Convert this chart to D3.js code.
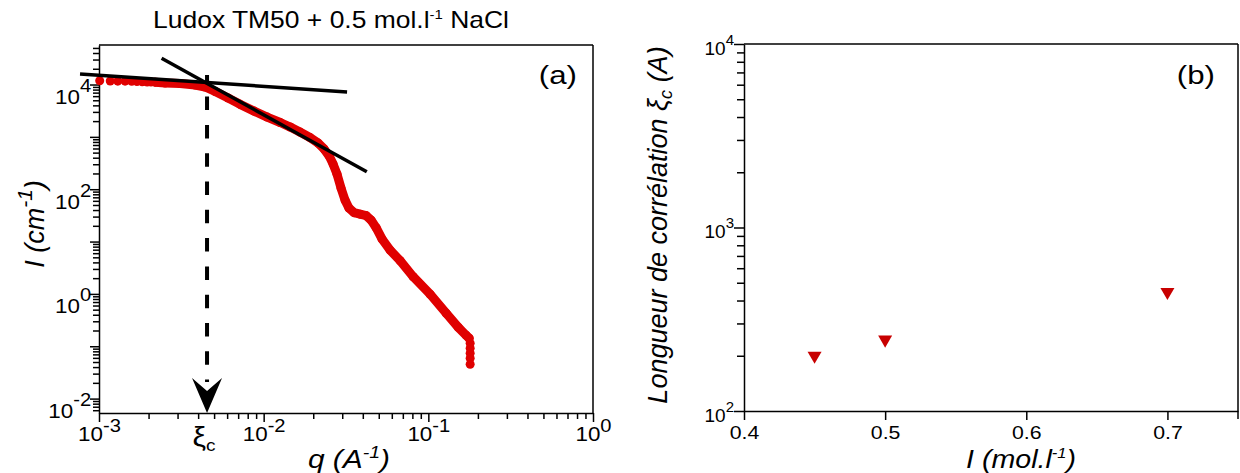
<!DOCTYPE html>
<html><head><meta charset="utf-8">
<script src="https://cdn.jsdelivr.net/npm/d3@7"></script>
<style>
body{margin:0;background:#fff}
svg{display:block}
text{font-family:"Liberation Sans",Arial,Helvetica,sans-serif;fill:#000}
</style>
</head><body>
<svg id="chart" width="1240" height="473"></svg>
<script>
// ---------------- DATA ----------------
// Panel (a): SAXS curve, q in A^-1, I in cm^-1
const qValues = [
  1.01e-3, 1.17e-3, 1.30e-3, 1.44e-3, 1.58e-3, 1.70e-3, 1.83e-3, 1.96e-3, 2.07e-3, 2.19e-3,
  2.52e-3, 3.11e-3, 3.83e-3, 4.41e-3, 5.07e-3, 6.08e-3, 7.19e-3, 8.74e-3, 1.05e-2, 1.26e-2,
  1.45e-2, 1.66e-2, 1.91e-2, 2.14e-2, 2.33e-2, 2.50e-2, 2.64e-2, 2.79e-2, 2.95e-2, 3.12e-2,
  3.30e-2, 3.54e-2, 3.85e-2, 4.19e-2, 4.49e-2, 4.82e-2, 5.24e-2, 5.86e-2, 6.74e-2, 8.09e-2,
  0.1025, 0.1283, 0.1518, 0.1697, 0.1770, 0.1795, 0.1795, 0.1795, 0.1795, 0.1795
];
const intensityValues = [
  11800, 11700, 11600, 11600, 11500, 11400, 11300, 11200, 11200, 11100,
  10680, 10450, 9780, 8960, 7350, 5520, 4180, 3110, 2390, 1880,
  1540, 1235, 970, 761, 585, 430, 302, 194, 105, 61.9,
  43.5, 35.7, 33.4, 31.3, 25.7, 18.4, 11.1, 6.85, 4.31, 2.13,
  0.987, 0.428, 0.231, 0.162, 0.142, 0.114, 0.0916, 0.0735, 0.059, 0.0453
];
const sparseCount = 10; // first low-q points drawn as separate dots

// Tangent lines (plateau and power-law regime)
const plateauLineQ = [7.67e-4, 0.0321];
const plateauLineI = [15900, 7190];
const slopeLineQ = [2.40e-3, 0.0423];
const slopeLineI = [31700, 215];

// Crossover position xi_c and the top of the dashed arrow
const xiCrossQ = 4.53e-3;
const xiCrossArrowTopI = 15200;

// Axis ticks, panel (a)
const xExponentsA = [-3, -2, -1, 0];
const yDecadesA = [-2, -1, 0, 1, 2, 3, 4];
const yLabelledExponentsA = [-2, 0, 2, 4];

// Panel (b): correlation length vs ionic strength
const ionicStrength = [0.45, 0.5, 0.7];
const correlationLength = [200, 245, 445];
const xTicksB = [0.4, 0.5, 0.6, 0.7];
const yExponentsB = [2, 3, 4];

// ---------------- DRAWING ----------------
const svg = d3.select("#chart");
const red = "#e00000";
const darkRed = "#c80000";
const SX = 1.12; // horizontal widening of horizontal texts

function stext(x, y, size, opts = {}) {
  const g = svg.append("g").attr("transform", `translate(${x},${y}) rotate(${opts.rot || 0}) scale(${opts.sx || 1},1)`);
  return g.append("text").attr("text-anchor", opts.anchor || "middle").attr("font-size", size)
    .attr("font-style", opts.italic ? "italic" : null);
}

// ---------- Panel (a) ----------
const A = {left: 99, right: 593, top: 45, bottom: 413};
const xA = d3.scaleLog().domain([1e-3, 1]).range([A.left, A.right]);
const yA = d3.scaleLog().domain([Math.pow(10, -2.275), Math.pow(10, 4.755)]).range([A.bottom, A.top]);

function minorLog(decades, dom) {
  const out = [];
  decades.forEach(e => { for (let m = 2; m <= 9; m++) { const v = m * Math.pow(10, e); if (v >= dom[0] && v <= dom[1]) out.push(v); } });
  return out;
}

const gA = svg.append("g");
gA.append("line").attr("x1", A.left).attr("x2", A.right).attr("y1", A.top).attr("y2", A.top).attr("stroke", "#000").attr("stroke-width", 1.5);
gA.append("line").attr("x1", A.right).attr("x2", A.right).attr("y1", A.top).attr("y2", A.bottom).attr("stroke", "#000").attr("stroke-width", 1.5);

// x minor ticks
gA.append("g").attr("transform", `translate(0,${A.bottom})`)
  .call(d3.axisBottom(xA).tickValues(minorLog([-3, -2, -1], xA.domain())).tickSize(6).tickFormat(""))
  .call(g => g.select(".domain").remove())
  .call(g => g.selectAll("line").attr("stroke-width", 1.5));
// x major ticks + labels
const xAxA = gA.append("g").attr("transform", `translate(0,${A.bottom})`)
  .call(d3.axisBottom(xA).tickValues(xExponentsA.map(e => Math.pow(10, e))).tickSize(9).tickSizeOuter(0).tickFormat(() => "10"));
xAxA.select(".domain").attr("stroke-width", 1.5);
xAxA.selectAll("line").attr("stroke-width", 1.5);
xAxA.selectAll("text").attr("font-size", 20).attr("y", 28).attr("dy", null).attr("dx", "0px")
  .attr("transform", `scale(${SX},1)`)
  .append("tspan").attr("dy", "-9").attr("font-size", 18).text(d => String(Math.round(Math.log10(d))));

// y minor ticks
gA.append("g").attr("transform", `translate(${A.left},0)`)
  .call(d3.axisLeft(yA).tickValues(minorLog(d3.range(-3, 5), yA.domain())).tickSize(6).tickFormat(""))
  .call(g => g.select(".domain").remove())
  .call(g => g.selectAll("line").attr("stroke-width", 1.5));
// y major ticks
const yAxA = gA.append("g").attr("transform", `translate(${A.left},0)`)
  .call(d3.axisLeft(yA).tickValues(yDecadesA.map(e => Math.pow(10, e))).tickSize(9).tickSizeOuter(0)
    .tickFormat(d => yLabelledExponentsA.includes(Math.round(Math.log10(d))) ? "10" : ""));
yAxA.select(".domain").attr("stroke-width", 1.5);
yAxA.selectAll("line").attr("stroke-width", 1.5);
yAxA.selectAll("text").filter(function(){ return this.textContent === "10"; })
  .attr("font-size", 20).attr("x", -7).attr("dy", "19").attr("transform", `scale(${SX},1)`)
  .each(function(d){
    d3.select(this).append("tspan").attr("dy", "-12").attr("font-size", 18).text(String(Math.round(Math.log10(d))));
  });

// curve (dense part as thick path, sparse dots as circles)
const pts = qValues.map((q, i) => [q, intensityValues[i]]);
const line = d3.line().x(d => xA(d[0])).y(d => yA(d[1]));
gA.append("path").datum(pts.slice(sparseCount - 1, pts.length - 5))
  .attr("d", line).attr("fill", "none").attr("stroke", red).attr("stroke-width", 9)
  .attr("stroke-linejoin", "round").attr("stroke-linecap", "round");
gA.append("g").selectAll("circle").data(pts).join("circle")
  .attr("cx", d => xA(d[0])).attr("cy", d => yA(d[1])).attr("r", 4.5).attr("fill", red);

// tangent lines
[[plateauLineQ, plateauLineI], [slopeLineQ, slopeLineI]].forEach(([qs, is]) => {
  gA.append("line").attr("x1", xA(qs[0])).attr("y1", yA(is[0])).attr("x2", xA(qs[1])).attr("y2", yA(is[1]))
    .attr("stroke", "#000").attr("stroke-width", 3.5);
});

// dashed arrow at xi_c
const ax = xA(xiCrossQ);
const arrowTipY = A.bottom;
const headH = 35, headW = 15, notch = 13;
gA.append("line").attr("x1", ax).attr("x2", ax).attr("y1", yA(xiCrossArrowTopI)).attr("y2", arrowTipY - headH + 4)
  .attr("stroke", "#000").attr("stroke-width", 4).attr("stroke-dasharray", "13.5,14.8").attr("stroke-dashoffset", 6.7);
gA.append("path")
  .attr("d", `M${ax},${arrowTipY} L${ax - headW},${arrowTipY - headH} L${ax},${arrowTipY - headH + notch} L${ax + headW},${arrowTipY - headH} Z`)
  .attr("fill", "#000");

// xi_c label under axis
const xiLab = stext(ax - 3, 446, 27, {sx: SX});
xiLab.append("tspan").text("ξ");
xiLab.append("tspan").attr("font-size", 17).attr("dy", 5).text("c");

// panel label
stext(577, 84, 26, {anchor: "end", sx: 1.2}).text("(a)");

// title
const title = stext(331, 28, 23, {sx: 1.15});
title.append("tspan").text("Ludox TM50 + 0.5 mol.l");
title.append("tspan").attr("font-size", 13).attr("dy", -9).text("-1");
title.append("tspan").attr("dy", 9).text(" NaCl");

// axis titles panel (a)
const xtA = stext(349, 468, 26, {sx: 1.15, italic: true});
xtA.append("tspan").text("q (A");
xtA.append("tspan").attr("font-size", 17).attr("dy", -10).text("-1");
xtA.append("tspan").attr("dy", 10).text(")");

const ytA = stext(44, 224, 27, {rot: -90, italic: true});
ytA.append("tspan").text("I (cm");
ytA.append("tspan").attr("font-size", 21).attr("dy", -12).text("-1");
ytA.append("tspan").attr("dy", 12).text(")");

// ---------- Panel (b) ----------
const B = {left: 744, right: 1238, top: 44, bottom: 411};
const xB = d3.scaleLinear().domain([0.4, 0.75]).range([B.left, B.right]);
const yB = d3.scaleLog().domain([100, 10000]).range([B.bottom, B.top]);
const gB = svg.append("g");
gB.append("line").attr("x1", B.left).attr("x2", B.right).attr("y1", B.top).attr("y2", B.top).attr("stroke", "#000").attr("stroke-width", 1.5);
gB.append("line").attr("x1", B.right).attr("x2", B.right).attr("y1", B.top).attr("y2", B.bottom + 8).attr("stroke", "#000").attr("stroke-width", 1.5);

const xAxB = gB.append("g").attr("transform", `translate(0,${B.bottom})`)
  .call(d3.axisBottom(xB).tickValues(xTicksB).tickSize(9).tickSizeOuter(0).tickFormat(d3.format(".1f")));
xAxB.select(".domain").attr("stroke-width", 1.5);
xAxB.selectAll("line").attr("stroke-width", 1.5);
xAxB.selectAll("text").attr("font-size", 19).attr("y", 15).attr("transform", `scale(${SX},1)`);

gB.append("g").attr("transform", `translate(${B.left},0)`)
  .call(d3.axisLeft(yB).tickValues(minorLog([2, 3], yB.domain())).tickSize(7).tickFormat(""))
  .call(g => g.select(".domain").remove())
  .call(g => g.selectAll("line").attr("stroke-width", 1.5));
const yAxB = gB.append("g").attr("transform", `translate(${B.left},0)`)
  .call(d3.axisLeft(yB).tickValues(yExponentsB.map(e => Math.pow(10, e))).tickSize(10).tickSizeOuter(0).tickFormat(() => "10"));
yAxB.select(".domain").attr("stroke-width", 1.5);
yAxB.selectAll("line").attr("stroke-width", 1.5);
yAxB.selectAll("text").attr("font-size", 19).attr("x", -10).attr("dy", "10")
  .each(function(d){
    d3.select(this).append("tspan").attr("dy", "-10").attr("font-size", 15).text(String(Math.round(Math.log10(d))));
  });

// triangle markers
const tri = d3.symbol().type(d3.symbolTriangle).size(85);
gB.append("g").selectAll("path").data(ionicStrength.map((x, i) => [x, correlationLength[i]])).join("path")
  .attr("d", tri).attr("fill", darkRed)
  .attr("transform", d => `translate(${xB(d[0])},${yB(d[1])}) rotate(180)`);

stext(1215, 84, 26, {anchor: "end", sx: 1.2}).text("(b)");

const xtB = stext(1021, 468, 26, {sx: 1.1, italic: true});
xtB.append("tspan").text("I (mol.l");
xtB.append("tspan").attr("font-size", 15).attr("dy", -10).text("-1");
xtB.append("tspan").attr("dy", 10).text(")");

const ytB = stext(667, 225, 27, {rot: -90, italic: true});
ytB.append("tspan").text("Longueur de corrélation ξ");
ytB.append("tspan").attr("font-size", 18).attr("dy", 5).text("c");
ytB.append("tspan").attr("dy", -5).text(" (A)");
</script>
</body></html>
